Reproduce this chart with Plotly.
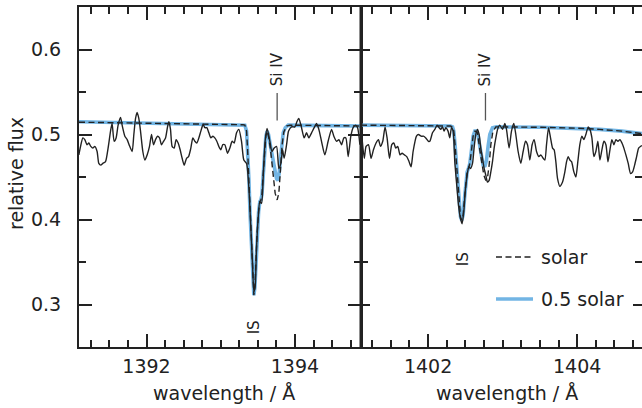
import plotly.graph_objects as go

# ---------------- data ----------------
# observed spectrum, left window (Si IV 1393.76)
obs_left_wl = [1391.088, 1391.111, 1391.142, 1391.168, 1391.199, 1391.222, 1391.249, 1391.276, 1391.303, 1391.334,
               1391.357, 1391.384, 1391.411, 1391.447, 1391.482, 1391.515, 1391.536, 1391.563, 1391.590, 1391.617,
               1391.650, 1391.671, 1391.708, 1391.739, 1391.765, 1391.806, 1391.829, 1391.852, 1391.873, 1391.896,
               1391.919, 1391.950, 1391.977, 1392.008, 1392.040, 1392.067, 1392.094, 1392.121, 1392.148, 1392.175,
               1392.202, 1392.229, 1392.256, 1392.283, 1392.301, 1392.323, 1392.345, 1392.372, 1392.399, 1392.426,
               1392.453, 1392.480, 1392.507, 1392.539, 1392.566, 1392.597, 1392.624, 1392.651, 1392.678, 1392.705,
               1392.732, 1392.763, 1392.786, 1392.813, 1392.840, 1392.867, 1392.894, 1392.920, 1392.947, 1392.974,
               1393.001, 1393.028, 1393.055, 1393.092, 1393.123, 1393.154, 1393.181, 1393.213, 1393.244, 1393.280,
               1393.311, 1393.348, 1393.379, 1393.402, 1393.429, 1393.446, 1393.464, 1393.482, 1393.504, 1393.527,
               1393.550, 1393.571, 1393.598, 1393.625, 1393.662, 1393.689, 1393.720, 1393.752, 1393.783, 1393.810,
               1393.833, 1393.854, 1393.887, 1393.914, 1393.954, 1393.999, 1394.026, 1394.052, 1394.089, 1394.124,
               1394.156, 1394.187, 1394.224, 1394.259, 1394.291, 1394.322, 1394.358, 1394.403, 1394.447, 1394.493,
               1394.524, 1394.561, 1394.592, 1394.628, 1394.659, 1394.686, 1394.717, 1394.753, 1394.784, 1394.817,
               1394.844, 1394.875]
obs_left_flux = [0.476, 0.486, 0.496, 0.494, 0.488, 0.490, 0.486, 0.484, 0.486, 0.480,
                 0.466, 0.464, 0.466, 0.468, 0.484, 0.504, 0.513, 0.492, 0.496, 0.511,
                 0.520, 0.511, 0.498, 0.494, 0.488, 0.480, 0.500, 0.519, 0.526, 0.519,
                 0.504, 0.480, 0.470, 0.476, 0.486, 0.500, 0.488, 0.494, 0.498, 0.496,
                 0.488, 0.492, 0.496, 0.509, 0.515, 0.506, 0.486, 0.484, 0.494, 0.490,
                 0.482, 0.472, 0.464, 0.472, 0.474, 0.484, 0.496, 0.492, 0.490, 0.496,
                 0.504, 0.512, 0.508, 0.508, 0.502, 0.496, 0.498, 0.496, 0.492, 0.486,
                 0.482, 0.488, 0.488, 0.478, 0.484, 0.492, 0.490, 0.502, 0.506, 0.492,
                 0.470, 0.466, 0.437, 0.397, 0.346, 0.315, 0.322, 0.366, 0.401, 0.421,
                 0.419, 0.448, 0.492, 0.507, 0.492, 0.480, 0.484, 0.486, 0.460, 0.466,
                 0.482, 0.472, 0.488, 0.504, 0.509, 0.509, 0.515, 0.519, 0.508, 0.496,
                 0.502, 0.496, 0.502, 0.508, 0.513, 0.506, 0.492, 0.476, 0.492, 0.506,
                 0.498, 0.492, 0.494, 0.488, 0.496, 0.496, 0.474, 0.498, 0.508, 0.511,
                 0.508, 0.488]

# observed spectrum, right window (Si IV 1402.77)
obs_right_wl = [1401.110, 1401.144, 1401.168, 1401.200, 1401.235, 1401.267, 1401.302, 1401.334, 1401.361, 1401.392,
                1401.423, 1401.450, 1401.482, 1401.513, 1401.540, 1401.566, 1401.593, 1401.624, 1401.651, 1401.683,
                1401.714, 1401.745, 1401.772, 1401.799, 1401.844, 1401.871, 1401.906, 1401.938, 1401.969, 1402.005,
                1402.023, 1402.059, 1402.090, 1402.121, 1402.148, 1402.170, 1402.193, 1402.215, 1402.238, 1402.268,
                1402.291, 1402.314, 1402.336, 1402.358, 1402.381, 1402.408, 1402.435, 1402.456, 1402.479, 1402.502,
                1402.524, 1402.546, 1402.569, 1402.596, 1402.617, 1402.640, 1402.663, 1402.685, 1402.707, 1402.730,
                1402.752, 1402.775, 1402.797, 1402.819, 1402.842, 1402.864, 1402.886, 1402.909, 1402.932, 1402.962,
                1402.999, 1403.030, 1403.052, 1403.087, 1403.119, 1403.150, 1403.177, 1403.208, 1403.244, 1403.275,
                1403.307, 1403.334, 1403.365, 1403.396, 1403.423, 1403.455, 1403.486, 1403.513, 1403.544, 1403.567,
                1403.589, 1403.616, 1403.643, 1403.670, 1403.691, 1403.714, 1403.737, 1403.768, 1403.804, 1403.835,
                1403.858, 1403.879, 1403.902, 1403.925, 1403.956, 1403.983, 1404.009, 1404.036, 1404.063, 1404.090,
                1404.117, 1404.148, 1404.171, 1404.198, 1404.224, 1404.251, 1404.278, 1404.305, 1404.332, 1404.359,
                1404.386, 1404.413, 1404.440, 1404.466, 1404.493, 1404.520, 1404.547, 1404.574, 1404.601, 1404.627,
                1404.654, 1404.685, 1404.717, 1404.744, 1404.771, 1404.798, 1404.825, 1404.852, 1404.870]
obs_right_flux = [0.500, 0.472, 0.486, 0.488, 0.472, 0.482, 0.490, 0.494, 0.486, 0.492,
                  0.509, 0.496, 0.472, 0.488, 0.490, 0.484, 0.486, 0.476, 0.478, 0.476,
                  0.474, 0.468, 0.462, 0.480, 0.498, 0.500, 0.498, 0.498, 0.496, 0.492,
                  0.492, 0.502, 0.506, 0.511, 0.508, 0.506, 0.509, 0.504, 0.508, 0.504,
                  0.496, 0.508, 0.504, 0.468, 0.444, 0.417, 0.401, 0.395, 0.409, 0.437,
                  0.452, 0.462, 0.460, 0.466, 0.484, 0.500, 0.506, 0.500, 0.484, 0.472,
                  0.460, 0.452, 0.444, 0.446, 0.456, 0.468, 0.484, 0.496, 0.506, 0.511,
                  0.506, 0.513, 0.506, 0.484, 0.504, 0.513, 0.500, 0.480, 0.466, 0.480,
                  0.492, 0.488, 0.470, 0.488, 0.494, 0.480, 0.474, 0.476, 0.472, 0.470,
                  0.488, 0.508, 0.496, 0.484, 0.482, 0.468, 0.448, 0.439, 0.444, 0.456,
                  0.468, 0.474, 0.470, 0.468, 0.456, 0.450, 0.468, 0.488, 0.498, 0.494,
                  0.500, 0.509, 0.506, 0.496, 0.474, 0.480, 0.492, 0.470, 0.482, 0.492,
                  0.488, 0.468, 0.482, 0.494, 0.488, 0.494, 0.492, 0.494, 0.490, 0.484,
                  0.476, 0.466, 0.454, 0.456, 0.464, 0.474, 0.484, 0.486, 0.487]

# model, 0.5 solar metallicity (left window)
half_left_wl = [1391.09, 1392.0, 1392.8, 1393.25, 1393.30, 1393.325, 1393.348, 1393.361, 1393.379, 1393.396,
                1393.415, 1393.432, 1393.446, 1393.460, 1393.473, 1393.491, 1393.510, 1393.527, 1393.541, 1393.555,
                1393.571, 1393.590, 1393.608, 1393.625, 1393.644, 1393.671, 1393.698, 1393.725, 1393.752, 1393.770,
                1393.787, 1393.806, 1393.824, 1393.842, 1393.869, 1393.909, 1394.4, 1394.89]
half_left_flux = [0.515, 0.5135, 0.5125, 0.512, 0.5115, 0.511, 0.504, 0.484, 0.448, 0.405,
                  0.366, 0.330, 0.311, 0.320, 0.350, 0.385, 0.409, 0.421, 0.423, 0.429,
                  0.452, 0.480, 0.498, 0.504, 0.500, 0.486, 0.472, 0.458, 0.448, 0.446,
                  0.454, 0.472, 0.490, 0.502, 0.508, 0.511, 0.5105, 0.510]

# model, solar metallicity (left window)
solar_left_wl = [1391.09, 1392.0, 1392.8, 1393.25, 1393.30, 1393.325, 1393.348, 1393.361, 1393.379, 1393.396,
                 1393.415, 1393.432, 1393.446, 1393.460, 1393.473, 1393.491, 1393.510, 1393.527, 1393.541, 1393.555,
                 1393.571, 1393.590, 1393.608, 1393.625, 1393.648, 1393.671, 1393.690, 1393.706, 1393.720, 1393.733,
                 1393.760, 1393.783, 1393.806, 1393.827, 1393.850, 1393.887, 1393.930, 1394.4, 1394.89]
solar_left_flux = [0.5145, 0.5135, 0.5125, 0.512, 0.5115, 0.511, 0.504, 0.484, 0.448, 0.405,
                   0.366, 0.330, 0.311, 0.320, 0.350, 0.385, 0.409, 0.421, 0.423, 0.429,
                   0.452, 0.480, 0.498, 0.504, 0.496, 0.482, 0.466, 0.452, 0.440, 0.431,
                   0.423, 0.431, 0.460, 0.488, 0.503, 0.510, 0.511, 0.5105, 0.510]

# model, 0.5 solar metallicity (right window)
half_right_wl = [1401.10, 1401.8, 1402.30, 1402.328, 1402.345, 1402.362, 1402.381, 1402.399, 1402.416, 1402.435,
                 1402.452, 1402.470, 1402.489, 1402.506, 1402.524, 1402.542, 1402.560, 1402.583, 1402.604, 1402.627,
                 1402.649, 1402.671, 1402.694, 1402.716, 1402.738, 1402.761, 1402.784, 1402.805, 1402.828, 1402.864,
                 1402.918, 1403.5, 1404.0, 1404.3, 1404.6, 1404.87]
half_right_flux = [0.511, 0.5105, 0.510, 0.509, 0.504, 0.488, 0.464, 0.437, 0.417, 0.403,
                   0.399, 0.405, 0.425, 0.444, 0.456, 0.460, 0.466, 0.482, 0.498, 0.504,
                   0.504, 0.498, 0.486, 0.472, 0.464, 0.462, 0.470, 0.486, 0.500, 0.508,
                   0.509, 0.5085, 0.5075, 0.506, 0.504, 0.501]

# model, solar metallicity (right window)
solar_right_wl = [1401.10, 1401.8, 1402.30, 1402.328, 1402.345, 1402.362, 1402.381, 1402.399, 1402.416, 1402.435,
                  1402.452, 1402.470, 1402.489, 1402.506, 1402.524, 1402.542, 1402.560, 1402.583, 1402.604, 1402.631,
                  1402.663, 1402.694, 1402.721, 1402.748, 1402.775, 1402.797, 1402.819, 1402.842, 1402.868, 1402.909,
                  1403.5, 1404.0, 1404.3, 1404.6, 1404.87]
solar_right_flux = [0.511, 0.5105, 0.510, 0.509, 0.504, 0.488, 0.464, 0.437, 0.417, 0.403,
                    0.399, 0.405, 0.425, 0.444, 0.456, 0.460, 0.466, 0.482, 0.498, 0.504,
                    0.502, 0.482, 0.464, 0.452, 0.446, 0.449, 0.464, 0.488, 0.503, 0.509,
                    0.5085, 0.5075, 0.506, 0.504, 0.501]

# line identifications
si_iv_wl = [1393.76, 1402.77]
is_wl = [1393.46, 1402.47]
is_label_flux = [0.273, 0.3535]
legend_labels = ["solar", "0.5 solar"]

# axis settings
x_ranges = [[1391.09, 1394.89], [1401.10, 1404.87]]
x_tick0 = [1392, 1402]
y_range = [0.25, 0.65]

# ---------------- style ----------------
FONT = "DejaVu Sans"
INK = "#222222"
BLUE = "#72b5e4"
DASH = "6px,3.5px"
W, H = 642, 408
ML, MT, MB = 79, 7, 61
PW = W - ML
PH = H - MT - MB
split = (361 - ML) / PW

fig = go.Figure()
for xa, ya, wl, fl in [("x", "y", half_left_wl, half_left_flux), ("x2", "y2", half_right_wl, half_right_flux)]:
    fig.add_trace(go.Scatter(x=wl, y=fl, xaxis=xa, yaxis=ya, mode="lines",
                             line=dict(color=BLUE, width=3.6), showlegend=False, hoverinfo="skip"))
for xa, ya, wl, fl in [("x", "y", solar_left_wl, solar_left_flux), ("x2", "y2", solar_right_wl, solar_right_flux)]:
    fig.add_trace(go.Scatter(x=wl, y=fl, xaxis=xa, yaxis=ya, mode="lines",
                             line=dict(color=INK, width=1.4, dash=DASH), showlegend=False, hoverinfo="skip"))
for xa, ya, wl, fl in [("x", "y", obs_left_wl, obs_left_flux), ("x2", "y2", obs_right_wl, obs_right_flux)]:
    fig.add_trace(go.Scatter(x=wl, y=fl, xaxis=xa, yaxis=ya, mode="lines",
                             line=dict(color=INK, width=1.4, shape="spline", smoothing=0.6),
                             showlegend=False, hoverinfo="skip"))
# invisible carriers for the minor-tick overlay axes
for xa, ya, wl, fl in [("x3", "y3", obs_left_wl, obs_left_flux), ("x4", "y4", obs_right_wl, obs_right_flux)]:
    fig.add_trace(go.Scatter(x=wl[:1], y=fl[:1], xaxis=xa, yaxis=ya, mode="markers",
                             marker=dict(opacity=0), showlegend=False, hoverinfo="skip"))

tickfont = dict(family=FONT, size=19, color=INK)
base = dict(showgrid=False, zeroline=False, ticks="inside", tickwidth=1.5, tickcolor=INK, mirror="ticks")
major_x = dict(base, showline=True, linecolor=INK, linewidth=2, ticklen=13, dtick=2,
               tickfont=tickfont, ticklabelstandoff=1)
minor_x = dict(base, showline=False, ticklen=7, dtick=0.25, showticklabels=False)
fig.update_layout(
    width=W, height=H, margin=dict(l=ML, r=0, t=MT, b=MB),
    paper_bgcolor="white", plot_bgcolor="white",
    font=dict(family=FONT, size=19, color=INK),
    showlegend=False,
    xaxis=dict(major_x, domain=[0, split], range=x_ranges[0], anchor="y", tick0=x_tick0[0]),
    xaxis2=dict(major_x, domain=[split, 1], range=x_ranges[1], anchor="y2", tick0=x_tick0[1]),
    xaxis3=dict(minor_x, domain=[0, split], range=x_ranges[0], anchor="y", tick0=x_tick0[0], overlaying="x"),
    xaxis4=dict(minor_x, domain=[split, 1], range=x_ranges[1], anchor="y2", tick0=x_tick0[1], overlaying="x2"),
    yaxis=dict(base, domain=[0, 1], range=y_range, anchor="x", showline=True, linecolor=INK, linewidth=2,
               ticklen=13, tick0=0.3, dtick=0.1, tickformat=".1f", tickfont=tickfont, ticklabelstandoff=12),
    yaxis2=dict(base, domain=[0, 1], range=y_range, anchor="x2", showline=False, showticklabels=False,
                ticklen=9, tick0=0.3, dtick=0.1),
    yaxis3=dict(base, domain=[0, 1], range=y_range, anchor="x", showline=False, showticklabels=False,
                ticklen=7, tick0=0.3, dtick=0.05, overlaying="y"),
    yaxis4=dict(base, domain=[0, 1], range=y_range, anchor="x2", showline=False, showticklabels=False,
                ticklen=7, tick0=0.3, dtick=0.05, overlaying="y2"),
)

ann = []
# axis titles
for xc in [223.5, 506.5]:
    ann.append(dict(text="wavelength / Å", xref="paper", yref="paper", x=(xc - ML) / PW, y=(MT + PH - 393) / PH,
                    xanchor="center", yanchor="middle", showarrow=False,
                    font=dict(family=FONT, size=19, color=INK)))
ann.append(dict(text="relative flux", xref="paper", yref="paper", x=(15.5 - ML) / PW, y=(MT + PH - 173.5) / PH,
                xanchor="center", yanchor="middle", textangle=-90, showarrow=False,
                font=dict(family=FONT, size=19, color=INK)))
# line ids
for i, (xr, yr) in enumerate([("x", "y"), ("x2", "y2")]):
    ann.append(dict(text="Si IV", xref=xr, yref=yr, x=si_iv_wl[i], y=0.577, textangle=-90,
                    xanchor="center", yanchor="middle", showarrow=False,
                    font=dict(family=FONT, size=15, color=INK)))
    ann.append(dict(text="IS", xref=xr, yref=yr, x=is_wl[i], y=is_label_flux[i], textangle=-90,
                    xanchor="center", yanchor="middle", showarrow=False,
                    font=dict(family=FONT, size=15, color=INK)))
# legend texts
for lab, yp in zip(legend_labels, [257, 299]):
    ann.append(dict(text=lab, xref="paper", yref="paper", x=(539 - ML) / PW, y=(MT + PH - yp) / PH,
                    xanchor="left", yanchor="middle", showarrow=False,
                    font=dict(family=FONT, size=19, color=INK)))
fig.update_layout(annotations=ann)

shapes = []
for i, (xr, yr) in enumerate([("x", "y"), ("x2", "y2")]):
    shapes.append(dict(type="line", xref=xr, yref=yr, x0=si_iv_wl[i], x1=si_iv_wl[i], y0=0.5165, y1=0.5488,
                       line=dict(color="#555555", width=1.3)))
# thicker divider between the two windows
shapes.append(dict(type="line", xref="paper", yref="paper", x0=split, x1=split, y0=0, y1=1,
                   line=dict(color=INK, width=3)))
lx0, lx1 = (496 - ML) / PW, (533 - ML) / PW
shapes.append(dict(type="line", xref="paper", yref="paper", x0=lx0, x1=lx1,
                   y0=(MT + PH - 257) / PH, y1=(MT + PH - 257) / PH,
                   line=dict(color=INK, width=1.4, dash=DASH)))
shapes.append(dict(type="line", xref="paper", yref="paper", x0=lx0, x1=lx1,
                   y0=(MT + PH - 299) / PH, y1=(MT + PH - 299) / PH,
                   line=dict(color=BLUE, width=3.6)))
fig.update_layout(shapes=shapes)

fig.write_html("out.html")
